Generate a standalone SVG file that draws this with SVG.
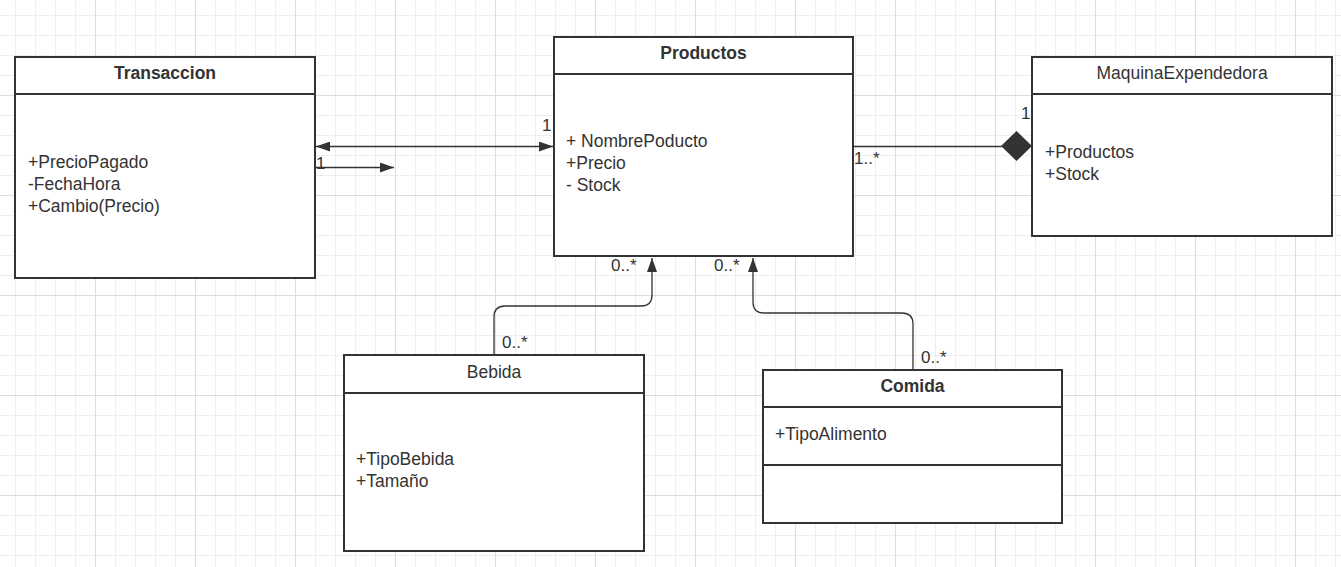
<svg xmlns="http://www.w3.org/2000/svg" width="1341" height="567" viewBox="0 0 1341 567">
<style>
.box{fill:#fff;stroke:#333;stroke-width:2}
.div{stroke:#333;stroke-width:2}
.t{font-family:"Liberation Sans",Arial,sans-serif;font-size:17.5px;fill:#333}
.b{font-weight:bold;text-anchor:middle}
.c{text-anchor:middle}
.lbl{font-family:"Liberation Sans",Arial,sans-serif;font-size:17px;fill:#333}
.ln{fill:none;stroke:#333;stroke-width:1.3}
</style>
<defs>
<pattern id="grid" patternUnits="userSpaceOnUse" x="15" y="15" width="100" height="100">
<rect x="0" y="0" width="1" height="100" fill="#eeeeee"/>
<rect x="20" y="0" width="1" height="100" fill="#eeeeee"/>
<rect x="40" y="0" width="1" height="100" fill="#eeeeee"/>
<rect x="60" y="0" width="1" height="100" fill="#eeeeee"/>
<rect x="0" y="0" width="100" height="1" fill="#eeeeee"/>
<rect x="0" y="20" width="100" height="1" fill="#eeeeee"/>
<rect x="0" y="40" width="100" height="1" fill="#eeeeee"/>
<rect x="0" y="60" width="100" height="1" fill="#eeeeee"/>
<rect x="80" y="0" width="1" height="100" fill="#dddddd"/>
<rect x="0" y="80" width="100" height="1" fill="#dddddd"/>
</pattern>
<marker id="arr" viewBox="0 0 14 10" refX="14" refY="5" markerWidth="14" markerHeight="10" markerUnits="userSpaceOnUse" orient="auto-start-reverse">
<path d="M0,0 L14,5 L0,10 Z" fill="#333"/>
</marker>
</defs>
<rect x="0" y="0" width="1341" height="567" fill="#fff"/>
<rect x="0" y="0" width="1341" height="567" fill="url(#grid)"/>

<g id="connectors">
<line class="ln" x1="316" y1="146.5" x2="553" y2="146.5" marker-start="url(#arr)" marker-end="url(#arr)"/>
<line class="ln" x1="316" y1="167.5" x2="394" y2="167.5" marker-end="url(#arr)"/>
<line class="ln" x1="853" y1="146.5" x2="1002" y2="146.5"/>
<path d="M1001,146 L1016.5,131 L1032,146 L1016.5,161 Z" fill="#333"/>
<path class="ln" d="M494,355 L494,317 Q494,306 505,306 L641,306 Q652,306 652,295 L652,258" marker-end="url(#arr)"/>
<path class="ln" d="M913,370 L913,324 Q913,313 902,313 L764,313 Q753,313 753,302 L753,258" marker-end="url(#arr)"/>
<text class="lbl" x="316" y="169">1</text>
<text class="lbl" x="542" y="131">1</text>
<text class="lbl" x="854" y="164">1..*</text>
<text class="lbl" x="1021" y="119">1</text>
<text class="lbl" x="611" y="271">0..*</text>
<text class="lbl" x="714" y="271">0..*</text>
<text class="lbl" x="502" y="348">0..*</text>
<text class="lbl" x="921" y="363">0..*</text>
</g>

<g id="transaccion">
<rect class="box" x="15" y="57" width="300" height="221"/>
<line class="div" x1="15" y1="94" x2="315" y2="94"/>
<text class="t b" x="165" y="79">Transaccion</text>
<text class="t" x="28" y="168">+PrecioPagado</text>
<text class="t" x="28" y="190">-FechaHora</text>
<text class="t" x="28" y="212">+Cambio(Precio)</text>
</g>

<g id="productos">
<rect class="box" x="554" y="37" width="299" height="219"/>
<line class="div" x1="554" y1="74" x2="853" y2="74"/>
<text class="t b" x="703.5" y="59">Productos</text>
<text class="t" x="566" y="147">+ NombrePoducto</text>
<text class="t" x="566" y="169">+Precio</text>
<text class="t" x="566" y="191">- Stock</text>
</g>

<g id="maquina">
<rect class="box" x="1032" y="57" width="300" height="179"/>
<line class="div" x1="1032" y1="94" x2="1332" y2="94"/>
<text class="t c" x="1182" y="79">MaquinaExpendedora</text>
<text class="t" x="1045" y="158">+Productos</text>
<text class="t" x="1045" y="180">+Stock</text>
</g>

<g id="bebida">
<rect class="box" x="344" y="355" width="300" height="196"/>
<line class="div" x1="344" y1="393" x2="644" y2="393"/>
<text class="t c" x="494" y="378">Bebida</text>
<text class="t" x="356" y="465">+TipoBebida</text>
<text class="t" x="356" y="487">+Tamaño</text>
</g>

<g id="comida">
<rect class="box" x="763" y="370" width="299" height="153"/>
<line class="div" x1="763" y1="407" x2="1062" y2="407"/>
<line class="div" x1="763" y1="465" x2="1062" y2="465"/>
<text class="t b" x="912.5" y="392">Comida</text>
<text class="t" x="775" y="440">+TipoAlimento</text>
</g>
</svg>
